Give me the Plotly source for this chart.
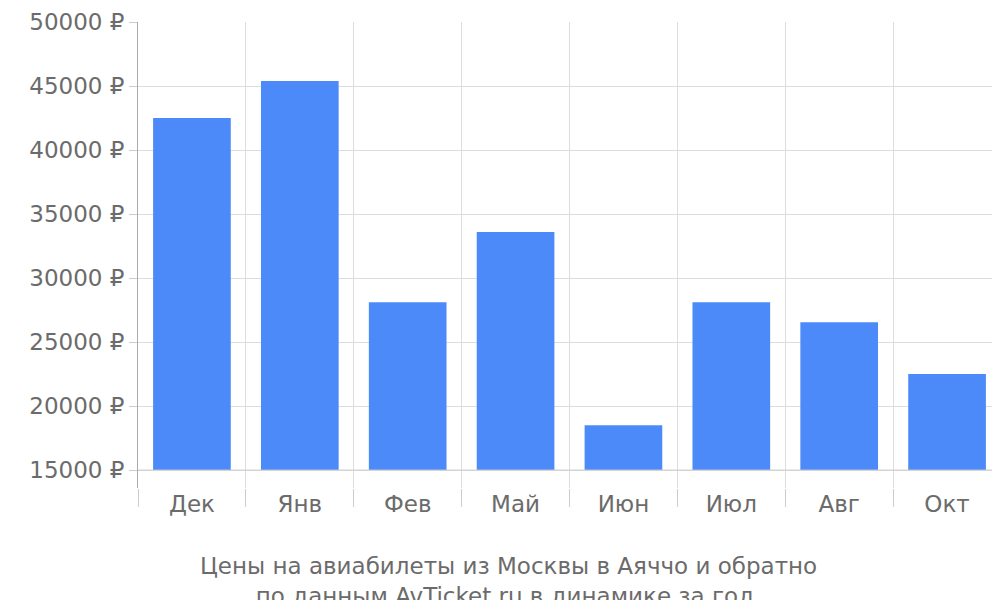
import plotly.graph_objects as go

months = ["Дек", "Янв", "Фев", "Май", "Июн", "Июл", "Авг", "Окт"]
prices = [42500, 45400, 28100, 33600, 18500, 28100, 26550, 22500]
base_price = 15000
y_ticks = [15000, 20000, 25000, 30000, 35000, 40000, 45000, 50000]

fig = go.Figure(go.Bar(
    x=months, y=[p - base_price for p in prices], base=base_price,
    marker=dict(color="#4d8af9", line=dict(width=0)),
))
gray = "#6b6b6b"
fig.update_layout(
    width=1000, height=600, plot_bgcolor="white", paper_bgcolor="white",
    margin=dict(l=130, r=7, t=14, b=120, autoexpand=False), bargap=0.28, showlegend=False,
    font=dict(family="DejaVu Sans", size=24, color=gray),
    xaxis=dict(tickson="boundaries", ticks="outside", ticklen=18, tickcolor="#cccccc",
               showgrid=True, gridcolor="#dddddd", showline=False, automargin=False,
               tickfont=dict(size=23, color=gray)),
    yaxis=dict(range=[13600, 50000], tickvals=y_ticks, automargin=False,
               ticktext=[f"{v} ₽" for v in y_ticks], ticks="outside", ticklen=8,
               tickcolor="#cccccc", showline=True, linecolor="#aaaaaa",
               gridcolor="#dddddd", zeroline=False, tickfont=dict(size=23, color=gray)),
    annotations=[dict(text="Цены на авиабилеты из Москвы в Аяччо и обратно<br>по данным AvTicket.ru в динамике за год.",
                      x=(500 - 130) / 863, xref="paper", y=-0.2, yref="paper", yanchor="middle",
                      showarrow=False, font=dict(size=23, color=gray))],
)
fig.add_shape(type="line", xref="paper", yref="y", x0=0, x1=1, y0=15000, y1=15000,
              line=dict(color="#cccccc", width=1))
fig.write_html("out.html")
